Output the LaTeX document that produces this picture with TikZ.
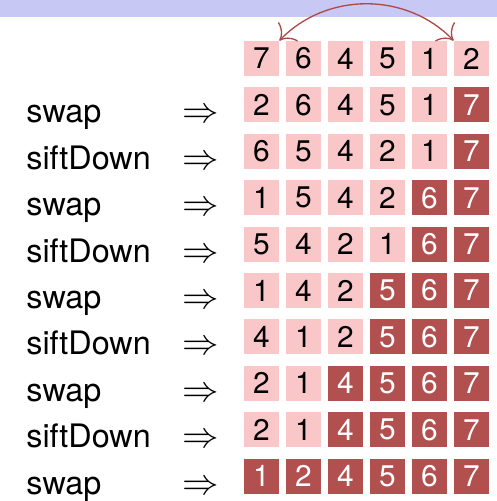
\documentclass[tikz,border=0pt]{standalone}
\usepackage{fontspec}
\setmainfont{TeX Gyre Heros}
\usetikzlibrary{arrows.meta}
\definecolor{Band}{HTML}{C8C8F5}
\definecolor{Cell}{HTML}{F9C7C8}
\definecolor{Done}{HTML}{B24F4F}
\definecolor{Arc}{HTML}{B04848}
\tikzset{
  cellbox/.style={fill=Cell,minimum size=0.7cm,inner sep=0pt,font=\fontsize{17}{19}\selectfont,text=black},
  donebox/.style={cellbox,fill=Done,text=white},
  steplabel/.style={anchor=base west,inner sep=0pt,font=\fontsize{18.4}{22}\selectfont},
  implies/.style={anchor=base west,inner sep=0pt,font=\fontsize{20}{24}\selectfont},
  swaparc/.style={{To[length=2.6mm]}-{To[length=2.6mm]},draw=Arc,line width=0.75pt}
}
\begin{document}
\begin{tikzpicture}[x=0.02cm,y=-0.02cm]
  \useasboundingbox (0,0) rectangle (497,501);
  \fill[Band] (0,0) rectangle (497,17);
  % rows of the array
  \foreach \r/\lab/\vals/\ndark in {
      0//{7,6,4,5,1,2}/0,
      1/swap/{2,6,4,5,1,7}/1,
      2/siftDown/{6,5,4,2,1,7}/1,
      3/swap/{1,5,4,2,6,7}/2,
      4/siftDown/{5,4,2,1,6,7}/2,
      5/swap/{1,4,2,5,6,7}/3,
      6/siftDown/{4,1,2,5,6,7}/3,
      7/swap/{2,1,4,5,6,7}/4,
      8/siftDown/{2,1,4,5,6,7}/4,
      9/swap/{1,2,4,5,6,7}/6}{
    \pgfmathsetmacro\yr{58.5+46.4*\r}
    \foreach \v [count=\c] in \vals {
      \pgfmathtruncatemacro\isdone{\c>6-\ndark}
      \ifnum\isdone=1
        \node[donebox] (b-\r-\c) at ({261.5+42*(\c-1)},\yr) {\v};
      \else
        \node[cellbox] (b-\r-\c) at ({261.5+42*(\c-1)},\yr) {\v};
      \fi
    }
    \ifnum\r>0
      \node[steplabel] (l\r) at (26,\yr+18) {\lab};
      \node[implies] (a\r) at (182,\yr+18) {$\Rightarrow$};
    \fi
  }
  \draw[swaparc] (b-0-1.north east) to[bend left=46] (b-0-6.north west);
\end{tikzpicture}
\end{document}
